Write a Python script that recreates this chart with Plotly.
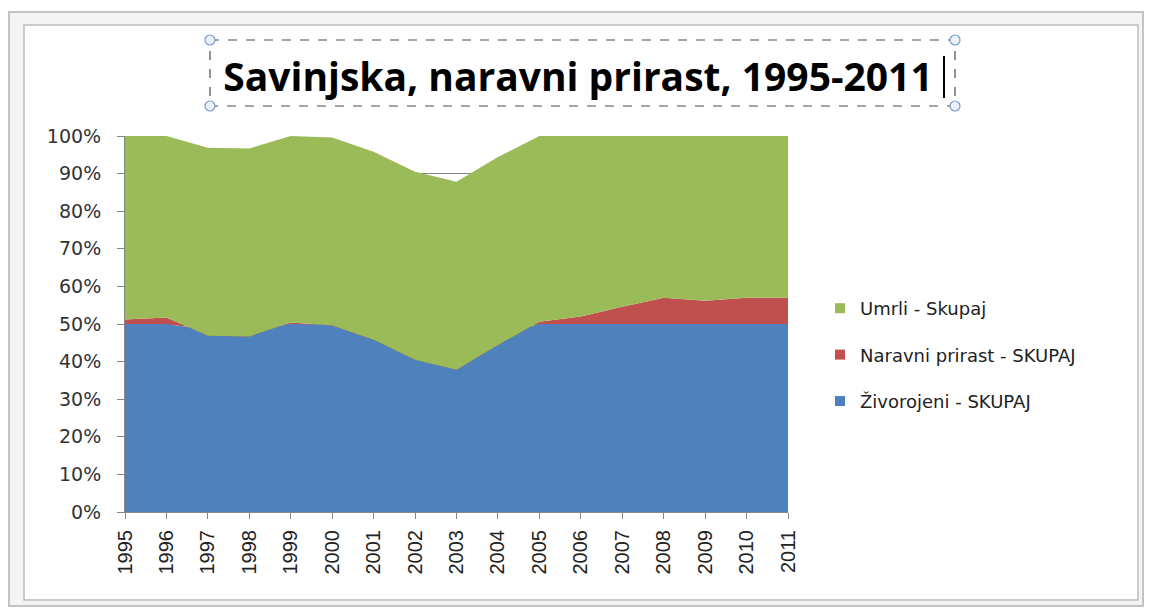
import plotly.graph_objects as go

# Share of each series as plotted in the 100% stacked area chart (percent)
years = list(range(1995, 2012))
zivorojeni = [50, 50, 48.45, 48.35, 50, 49.8, 47.9, 45.25, 43.9, 47.2, 50, 50, 50, 50, 50, 50, 50]
prirast = [1.2, 1.7, -1.55, -1.65, 0.4, -0.2, -2.1, -4.75, -6.1, -2.8, 0.6, 2.0, 4.6, 7.0, 6.2, 7.0, 7.0]
umrli = [48.8, 48.3, 50, 50, 49.6, 50, 50, 50, 50, 50, 49.4, 48, 45.4, 43, 43.8, 43, 43]

series_names = ['Živorojeni - SKUPAJ', 'Naravni prirast - SKUPAJ', 'Umrli - Skupaj']
series_values = [zivorojeni, prirast, umrli]
colours = ['#4F81BD', '#C0504D', '#9BBB59']

# page body has an 8px margin, so the figure is a bit smaller than the window
OFF = 8
W, H = 1136, 600
M_L, M_T = 117, 128
M_R, M_B = W - 780, H - 504
PW, PH = W - M_L - M_R, H - M_T - M_B


def px(x):
    # screen x -> paper x
    return (x - OFF - M_L) / PW


def py(y):
    # screen y -> paper y
    return (H - M_B - (y - OFF)) / PH


fig = go.Figure()

for name, vals, col in zip(series_names, series_values, colours):
    fig.add_trace(go.Scatter(
        x=years, y=vals, stackgroup='one', mode='lines',
        line={'width': 0, 'color': col}, fillcolor=col,
        showlegend=False, hoverinfo='skip'
    ))

# legend entries with small square swatches, top to bottom like Excel
for i in reversed(range(len(series_names))):
    fig.add_trace(go.Scatter(
        x=[None], y=[None], mode='markers', name=series_names[i],
        marker={'symbol': 'square', 'size': 10, 'color': colours[i]},
        legendgroup=str(i)
    ))

shapes = [
    # Excel chart frame
    {'type': 'rect', 'xref': 'paper', 'yref': 'paper',
     'x0': px(9), 'x1': px(1143), 'y0': py(12), 'y1': py(606),
     'line': {'color': '#C4C4C4', 'width': 2}, 'fillcolor': '#F4F4F4', 'layer': 'below'},
    {'type': 'rect', 'xref': 'paper', 'yref': 'paper',
     'x0': px(24), 'x1': px(1138), 'y0': py(25), 'y1': py(600),
     'line': {'color': '#BDBDBD', 'width': 1.5}, 'fillcolor': 'white', 'layer': 'below'},
    # selected title box with text cursor
    {'type': 'rect', 'xref': 'paper', 'yref': 'paper',
     'x0': px(210), 'x1': px(955), 'y0': py(40), 'y1': py(106),
     'line': {'color': '#4A4A4A', 'width': 1.2, 'dash': 'dash'}},
    {'type': 'line', 'xref': 'paper', 'yref': 'paper',
     'x0': px(944), 'x1': px(944), 'y0': py(56), 'y1': py(98),
     'line': {'color': 'black', 'width': 2}},
]
for hx in (210, 955):
    for hy in (40, 106):
        shapes.append({'type': 'circle', 'xref': 'paper', 'yref': 'paper',
                       'x0': px(hx - 5), 'x1': px(hx + 5), 'y0': py(hy - 5), 'y1': py(hy + 5),
                       'line': {'color': '#7A9CC6', 'width': 1.2}, 'fillcolor': '#EAF1FA'})

fig.update_layout(
    width=W, height=H,
    margin={'l': M_L, 'r': M_R, 't': M_T, 'b': M_B},
    paper_bgcolor='white', plot_bgcolor='white',
    title={'text': '<b>Savinjska, naravni prirast, 1995-2011</b>',
           'x': (578 - OFF) / W, 'xanchor': 'center', 'xref': 'container',
           'y': 1 - (77 - OFF) / H, 'yanchor': 'middle', 'yref': 'container',
           'font': {'family': 'Open Sans', 'size': 39, 'color': 'black'}},
    xaxis={'range': [1995, 2011], 'tickvals': years, 'tickangle': -90,
           'ticks': 'outside', 'ticklen': 6, 'tickcolor': '#868686',
           'showline': True, 'linecolor': '#868686', 'showgrid': False, 'zeroline': False,
           'ticklabelstandoff': 3,
           'tickfont': {'family': 'Liberation Sans', 'size': 20, 'color': '#222222'}},
    yaxis={'range': [0, 100], 'dtick': 10, 'ticksuffix': '%',
           'ticks': 'outside', 'ticklen': 7, 'tickcolor': '#868686',
           'showline': True, 'linecolor': '#868686',
           'showgrid': True, 'gridcolor': '#868686', 'gridwidth': 1, 'zeroline': False,
           'ticklabelstandoff': 12,
           'tickfont': {'family': 'DejaVu Sans', 'size': 19, 'color': '#333333'}},
    legend={'x': px(820), 'xanchor': 'left', 'y': py(355), 'yanchor': 'middle',
            'traceorder': 'grouped', 'tracegroupgap': 20,
            'font': {'family': 'DejaVu Sans', 'size': 18, 'color': '#222222'},
            'itemwidth': 30, 'bgcolor': 'rgba(0,0,0,0)'},
    shapes=shapes,
    hovermode=False,
)

fig.write_html('out.html')
